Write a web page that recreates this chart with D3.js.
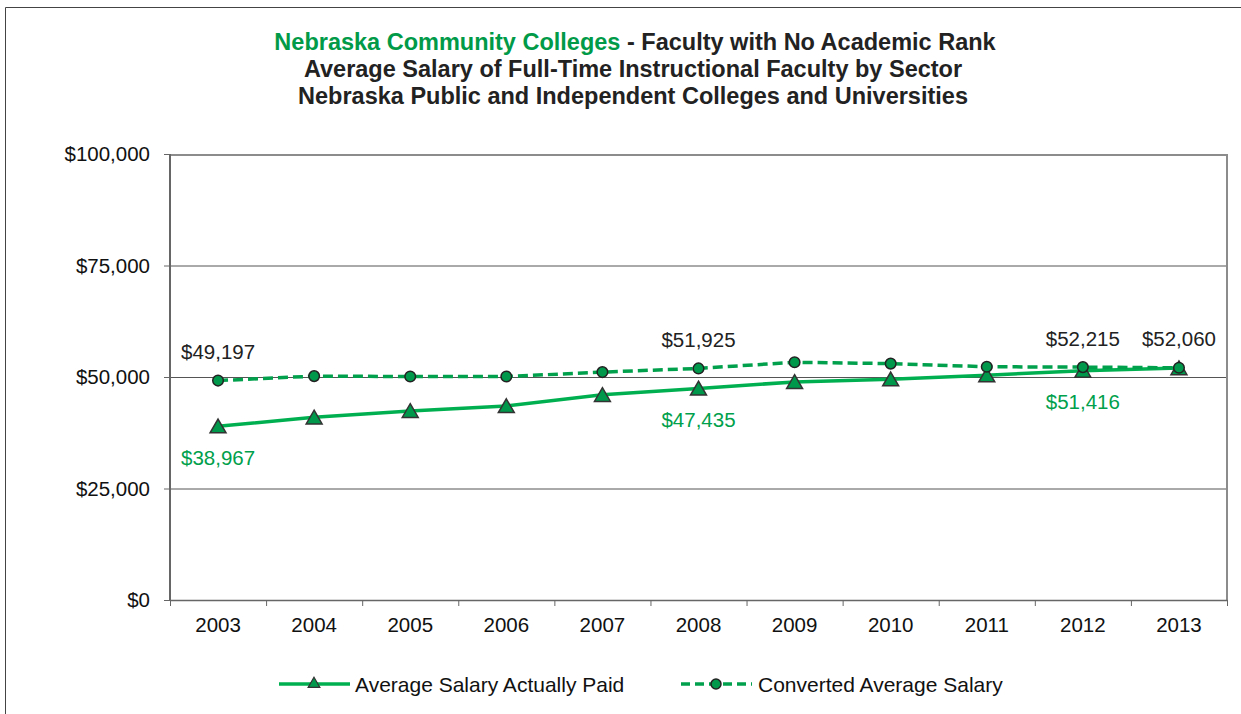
<!DOCTYPE html>
<html><head><meta charset="utf-8">
<script src="https://cdn.jsdelivr.net/npm/d3@7"></script>
<style>body{margin:0;background:#fff;font-family:"Liberation Sans",Arial,sans-serif;}</style>
</head><body>
<svg id="c" width="1241" height="714" font-family="Liberation Sans, Arial, sans-serif"></svg>
<script>
const years = ["2003","2004","2005","2006","2007","2008","2009","2010","2011","2012","2013"];
const actualPaid = [38967, 40950, 42400, 43500, 46000, 47435, 48900, 49500, 50400, 51416, 52000];
const converted = [49197, 50200, 50100, 50100, 51100, 51925, 53300, 53000, 52300, 52215, 52060];
const yTicks = [0, 25000, 50000, 75000, 100000];
const actualLabelYears = ["2003","2008","2012"];
const convertedLabelYears = ["2003","2008","2012","2013"];
const seriesNames = ["Average Salary Actually Paid", "Converted Average Salary"];

const svg = d3.select("#c");
const L = 170, R = 1227, T = 154, B = 600;
const x = d3.scaleBand().domain(years).range([L, R]);
const y = d3.scaleLinear().domain([0, 100000]).range([B, T]);
const fmt = v => "$" + d3.format(",")(v);
const green = "#00B050", mk = "#00994C", tgreen = "#00A04C";
const FS = 20.5;

// outer border
svg.append("path").attr("d", "M5.5,714 V7.5 H1241").attr("fill","none").attr("stroke","#444").attr("stroke-width",1);

// title
const title = svg.append("text").attr("x", 635).attr("y", 50).attr("text-anchor","middle")
  .attr("font-weight","bold").attr("font-size", 23.5);
title.append("tspan").attr("fill", "#009A48").text("Nebraska Community Colleges");
title.append("tspan").attr("fill", "#222").text(" - Faculty with No Academic Rank");
["Average Salary of Full-Time Instructional Faculty by Sector","Nebraska Public and Independent Colleges and Universities"].forEach((t,i)=>{
  svg.append("text").attr("x", 633).attr("y", 77 + i*26.5).attr("text-anchor","middle")
    .attr("font-weight","bold").attr("font-size",23.5).attr("fill","#222").text(t);
});

// gridlines
svg.append("g").selectAll("line").data(yTicks.filter(d=>d>0 && d<100000)).join("line")
  .attr("x1", L).attr("x2", R).attr("y1", d=>y(d)+0.5).attr("y2", d=>y(d)+0.5)
  .attr("stroke", "#555").attr("stroke-width", 1);
// plot border top/right
svg.append("path").attr("d", `M${L},${T+1} H${R} V${B}`).attr("fill","none").attr("stroke","#8c8c8c").attr("stroke-width",2);

// y axis
const ya = svg.append("g").attr("transform", `translate(${L},0)`)
  .call(d3.axisLeft(y).tickValues(yTicks).tickFormat(fmt).tickSize(6).tickPadding(14));
ya.select(".domain").attr("stroke","#666").attr("stroke-width",2).attr("d", `M0,${T}V${B}`);
ya.selectAll(".tick line").attr("stroke","#666");
ya.selectAll("text").attr("font-size",FS).attr("fill","#111").attr("font-family","Liberation Sans, Arial");

// x axis
const xa = svg.append("g").attr("transform", `translate(0,${B})`)
  .call(d3.axisBottom(x).tickSize(0).tickPadding(17));
xa.select(".domain").attr("stroke","#666").attr("stroke-width",1.5);
xa.selectAll("text").attr("font-size",FS).attr("fill","#111").attr("font-family","Liberation Sans, Arial");
svg.append("g").selectAll("line").data(years.concat(["end"])).join("line")
  .attr("x1", (d,i)=> (i<years.length? x(d) : R)+0.5).attr("x2",(d,i)=> (i<years.length? x(d) : R)+0.5)
  .attr("y1", B).attr("y2", B+6).attr("stroke","#666");

const cx = d => x(d) + x.bandwidth()/2;
const tri = d3.symbol().type(d3.symbolTriangle).size(110);

const aData = years.map((d,i)=>({year:d, v:actualPaid[i]}));
const cData = years.map((d,i)=>({year:d, v:converted[i]}));
const line = d3.line().x(d=>cx(d.year)).y(d=>y(d.v));
svg.append("path").datum(aData).attr("d", line).attr("fill","none").attr("stroke", green).attr("stroke-width",3.5);
svg.append("path").datum(cData).attr("d", line).attr("fill","none").attr("stroke", "#00A04C").attr("stroke-width",3.5).attr("stroke-dasharray","10,5");

svg.append("g").selectAll("path").data(aData).join("path")
  .attr("d", tri).attr("transform", d=>`translate(${cx(d.year)},${y(d.v)+2})`)
  .attr("fill", mk).attr("stroke","#333").attr("stroke-width",1.5);
svg.append("g").selectAll("circle").data(cData).join("circle")
  .attr("cx", d=>cx(d.year)).attr("cy", d=>y(d.v)).attr("r",5.3)
  .attr("fill", mk).attr("stroke","#222").attr("stroke-width",1.5);

// data labels
svg.append("g").selectAll("text").data(cData.filter(d=>convertedLabelYears.includes(d.year))).join("text")
  .attr("x", d=>cx(d.year)).attr("y", d=>y(d.v)-21.5).attr("text-anchor","middle")
  .attr("font-size",FS).attr("fill","#222").text(d=>fmt(d.v));
svg.append("g").selectAll("text").data(aData.filter(d=>actualLabelYears.includes(d.year))).join("text")
  .attr("x", d=>cx(d.year)).attr("y", d=>y(d.v)+38.5).attr("text-anchor","middle")
  .attr("font-size",FS).attr("fill",tgreen).text(d=>fmt(d.v));

// legend
const lg = svg.append("g").attr("transform","translate(0,684)");
lg.append("line").attr("x1",279).attr("x2",350).attr("y1",0).attr("y2",0).attr("stroke",green).attr("stroke-width",3.5);
lg.append("path").attr("d", d3.symbol().type(d3.symbolTriangle).size(60)).attr("transform","translate(314,0)").attr("fill",mk).attr("stroke","#333").attr("stroke-width",1.2);
lg.append("text").attr("x",355).attr("y",7.5).attr("font-size",21).attr("fill","#111").text(seriesNames[0]);
lg.append("line").attr("x1",681).attr("x2",752).attr("y1",0).attr("y2",0).attr("stroke","#00A04C").attr("stroke-width",3.5).attr("stroke-dasharray","9,5");
lg.append("circle").attr("cx",716).attr("cy",0).attr("r",5).attr("fill",mk).attr("stroke","#222").attr("stroke-width",1.5);
lg.append("text").attr("x",758).attr("y",7.5).attr("font-size",21).attr("fill","#111").text(seriesNames[1]);
</script>
</body></html>
